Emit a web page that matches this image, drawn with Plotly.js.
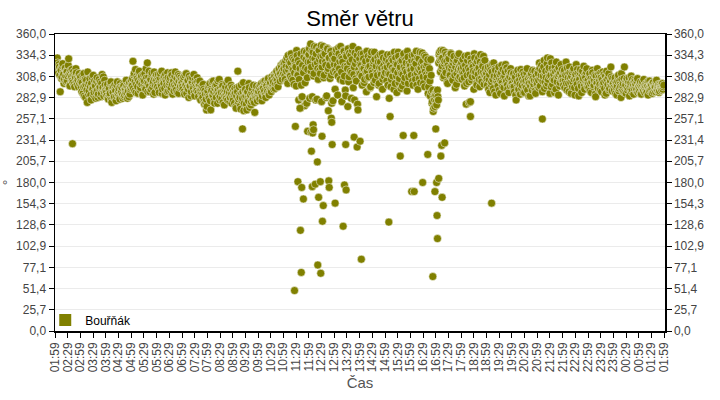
<!DOCTYPE html>
<html>
<head>
<meta charset="utf-8">
<script src="https://cdn.plot.ly/plotly-3.0.1.min.js"></script>
<style>
  html, body { margin: 0; padding: 0; background: #fff; }
  #smer { width: 720px; height: 400px; }
</style>
</head>
<body>
<div id="smer"></div>
<script>
/* wind direction, readings at :59, :01, :03 ... of each hour (first one 01:59) */
var dir02 = [322, 328, 318, 325, 313, 320, 290, 316, 308, 324, 311, 305, 319, 302, 314, 309, 330, 298, 312, 306, 317, 301, 310, 296, 307, 313, 299, 304, 311, 300];
var dir03 = [308, 295, 301, 288, 312, 297, 283, 304, 277, 299, 291, 306, 286, 300, 294, 310, 289, 298, 282, 303, 292, 287, 305, 296, 284, 300, 293, 308, 290, 298];
var dir04 = [292, 285, 299, 281, 294, 288, 302, 277, 290, 296, 284, 293, 279, 298, 287, 291, 283, 300, 289, 295, 282, 297, 286, 292, 304, 288, 296, 284, 301, 293];
var dir05 = [303, 297, 327, 310, 291, 317, 299, 306, 288, 313, 301, 295, 309, 286, 304, 298, 312, 293, 307, 325, 300, 315, 290, 305, 311, 296, 302, 314, 289, 308];
var dir06 = [304, 296, 311, 289, 307, 299, 315, 293, 302, 309, 286, 305, 298, 313, 291, 301, 307, 295, 310, 287, 303, 298, 314, 292, 306, 300, 288, 309, 297, 304];
var dir07 = [301, 293, 308, 287, 299, 312, 295, 304, 283, 297, 306, 290, 302, 296, 311, 285, 300, 293, 307, 289, 298, 303, 280, 294, 286, 299, 278, 291, 277, 268];
var dir08 = [288, 296, 282, 300, 268, 291, 285, 303, 279, 294, 287, 299, 276, 292, 305, 284, 290, 281, 297, 288, 274, 293, 286, 301, 280, 295, 289, 283, 298, 276];
var dir09 = [283, 291, 276, 288, 270, 295, 315, 281, 286, 273, 298, 279, 290, 267, 284, 293, 275, 289, 282, 300, 271, 286, 278, 294, 280, 288, 265, 283, 297, 279];
var dir10 = [287, 296, 281, 292, 300, 285, 294, 289, 303, 283, 297, 290, 306, 286, 299, 293, 308, 296, 302, 311, 294, 305, 315, 299, 310, 318, 303, 322, 308, 316];
var dir11 = [312, 325, 305, 320, 331, 300, 316, 327, 309, 336, 318, 304, 329, 313, 322, 297, 334, 310, 280, 324, 270, 298, 284, 315, 332, 273, 319, 338, 307, 326];
var dir12 = [335, 282, 348, 320, 284, 338, 312, 330, 280, 344, 325, 305, 340, 316, 333, 278, 327, 345, 310, 336, 322, 285, 342, 318, 331, 306, 339, 276, 328, 314];
var dir13 = [323, 293, 338, 312, 286, 343, 318, 305, 332, 278, 326, 340, 309, 292, 335, 321, 272, 302, 337, 315, 282, 329, 345, 311, 280, 324, 303, 334, 268, 317];
var dir14 = [330, 312, 322, 298, 336, 318, 305, 327, 290, 315, 333, 308, 321, 296, 338, 313, 324, 301, 329, 317, 284, 310, 326, 300, 335, 314, 319, 293, 331, 309];
var dir15 = [318, 327, 303, 335, 312, 282, 322, 296, 330, 309, 316, 338, 300, 324, 289, 313, 333, 306, 320, 294, 328, 311, 336, 302, 317, 325, 291, 332, 308, 319];
var dir16 = [322, 310, 334, 298, 318, 327, 305, 339, 313, 293, 330, 316, 301, 325, 337, 308, 320, 296, 332, 311, 324, 288, 315, 303, 329, 290, 278, 266, 284, 272];
var dir17 = [286, 274, 292, 280, 335, 328, 340, 318, 331, 307, 324, 338, 313, 327, 300, 333, 319, 310, 336, 322, 304, 329, 315, 295, 326, 312, 334, 306, 321, 316];
var dir18 = [318, 305, 329, 312, 297, 322, 275, 310, 334, 302, 316, 278, 325, 308, 320, 293, 331, 314, 300, 327, 311, 319, 296, 335, 306, 323, 313, 299, 328, 309];
var dir19 = [312, 298, 320, 305, 289, 316, 302, 324, 294, 309, 318, 286, 307, 300, 315, 292, 311, 303, 322, 296, 308, 285, 314, 301, 319, 293, 306, 310, 297, 313];
var dir20 = [305, 296, 312, 290, 308, 280, 300, 316, 293, 304, 287, 310, 298, 314, 302, 289, 307, 295, 318, 301, 285, 309, 297, 312, 292, 306, 299, 315, 288, 303];
var dir21 = [300, 312, 295, 318, 306, 322, 290, 309, 328, 302, 315, 297, 331, 305, 319, 288, 310, 325, 299, 314, 304, 320, 293, 308, 316, 286, 311, 301, 323, 307];
var dir22 = [309, 298, 316, 304, 326, 292, 311, 300, 320, 306, 288, 314, 302, 318, 295, 308, 323, 299, 312, 285, 305, 317, 297, 310, 303, 321, 293, 307, 314, 301];
var dir23 = [304, 295, 312, 300, 289, 316, 306, 298, 310, 284, 302, 318, 294, 307, 299, 313, 290, 305, 297, 311, 286, 303, 315, 296, 308, 292, 301, 320, 297, 306];
var dir00 = [300, 292, 307, 296, 286, 303, 310, 294, 299, 283, 305, 297, 290, 320, 301, 288, 306, 295, 302, 285, 298, 309, 293, 300, 287, 304, 296, 291, 302, 289];
var dir01 = [296, 290, 302, 287, 299, 293, 305, 289, 297, 291, 300, 286, 295, 303, 292, 298, 288, 301, 294, 296, 290, 304, 293, 297, 289, 299, 295, 292, 300, 296];

/* readings in between: :00, :02, :04 ... */
var dir02b = [326, 319, 331, 315, 323, 310, 317, 306, 321, 313, 300, 318, 309, 315, 303, 322, 311, 297, 316, 308, 304, 314, 299, 309, 318, 302, 307, 296, 312, 305];
var dir03b = [302, 290, 311, 296, 285, 305, 299, 292, 314, 287, 301, 296, 280, 308, 293, 286, 303, 297, 290, 307, 283, 299, 294, 302, 288, 311, 295, 285, 304, 292];
var dir04b = [289, 297, 283, 292, 286, 300, 280, 295, 289, 283, 298, 291, 285, 302, 288, 294, 281, 296, 290, 286, 299, 284, 293, 288, 297, 282, 291, 299, 287, 295];
var dir05b = [298, 306, 294, 312, 302, 289, 309, 296, 304, 315, 292, 307, 299, 286, 311, 303, 295, 318, 301, 290, 308, 297, 304, 293, 313, 300, 287, 306, 298, 310];
var dir06b = [299, 308, 293, 303, 312, 297, 288, 306, 300, 294, 311, 302, 290, 307, 298, 304, 292, 313, 299, 305, 291, 309, 296, 302, 289, 311, 303, 295, 307, 300];
var dir07b = [296, 305, 290, 310, 298, 288, 303, 293, 309, 297, 285, 301, 307, 294, 289, 304, 296, 291, 302, 284, 299, 292, 288, 297, 283, 293, 275, 287, 281, 272];
var dir08b = [291, 284, 297, 279, 293, 302, 286, 290, 276, 298, 283, 291, 303, 287, 280, 294, 289, 299, 277, 292, 285, 296, 282, 290, 304, 286, 278, 293, 287, 295];
var dir09b = [280, 287, 294, 272, 285, 290, 278, 296, 283, 269, 288, 282, 301, 276, 292, 285, 268, 290, 279, 295, 284, 274, 289, 281, 298, 277, 286, 292, 283, 290];
var dir10b = [290, 283, 298, 288, 279, 295, 302, 291, 286, 299, 293, 304, 288, 296, 301, 290, 305, 298, 293, 309, 300, 313, 304, 296, 317, 307, 312, 320, 305, 325];
var dir11b = [318, 309, 327, 315, 302, 334, 321, 310, 325, 306, 331, 317, 299, 327, 320, 340, 311, 328, 305, 318, 336, 283, 322, 313, 339, 301, 329, 276, 317, 334];
var dir12b = [342, 326, 315, 339, 331, 309, 345, 323, 336, 281, 318, 341, 329, 312, 346, 320, 334, 307, 338, 326, 283, 343, 315, 331, 322, 340, 310, 335, 279, 327];
var dir13b = [330, 316, 341, 322, 309, 336, 327, 345, 314, 330, 303, 339, 321, 285, 333, 318, 342, 308, 326, 334, 313, 340, 295, 320, 337, 306, 329, 275, 341, 312];
var dir14b = [323, 336, 309, 318, 330, 301, 325, 314, 339, 307, 320, 328, 295, 334, 316, 309, 327, 338, 304, 321, 313, 332, 298, 319, 326, 311, 336, 305, 322, 315];
var dir15b = [313, 330, 320, 298, 326, 311, 335, 305, 319, 328, 293, 316, 331, 309, 323, 338, 301, 318, 327, 312, 297, 334, 320, 307, 329, 314, 339, 300, 324, 316];
var dir16b = [316, 328, 303, 321, 335, 310, 324, 298, 331, 317, 306, 338, 319, 312, 327, 300, 334, 315, 322, 307, 329, 296, 318, 285, 310, 276, 292, 270, 280, 288];
var dir17b = [278, 290, 284, 325, 338, 314, 330, 321, 340, 309, 327, 316, 335, 302, 322, 330, 311, 337, 318, 306, 325, 333, 310, 320, 299, 328, 317, 336, 308, 323];
var dir18b = [325, 313, 320, 307, 333, 316, 300, 328, 319, 277, 311, 330, 304, 322, 315, 336, 309, 324, 298, 317, 331, 305, 326, 314, 302, 321, 333, 310, 318, 304];
var dir19b = [306, 317, 293, 311, 321, 299, 314, 305, 325, 290, 316, 303, 310, 297, 320, 306, 288, 313, 301, 317, 295, 309, 323, 303, 298, 315, 289, 308, 318, 300];
var dir20b = [300, 311, 296, 305, 286, 314, 302, 291, 309, 299, 317, 294, 305, 289, 311, 298, 303, 313, 292, 306, 300, 285, 310, 302, 316, 296, 304, 291, 309, 298];
var dir21b = [314, 304, 325, 297, 310, 316, 303, 320, 294, 312, 307, 324, 300, 315, 309, 330, 296, 318, 305, 311, 289, 314, 326, 302, 309, 319, 297, 313, 305, 317];
var dir22b = [303, 314, 295, 310, 300, 319, 307, 290, 313, 301, 309, 296, 316, 305, 286, 311, 303, 317, 294, 308, 313, 300, 289, 315, 306, 297, 311, 302, 318, 296];
var dir23b = [299, 310, 291, 306, 302, 313, 296, 304, 287, 309, 300, 295, 311, 303, 292, 307, 298, 314, 301, 294, 309, 288, 305, 299, 312, 294, 303, 308, 291, 300];
var dir00b = [295, 304, 288, 301, 297, 308, 291, 303, 296, 312, 293, 300, 306, 289, 298, 304, 292, 299, 307, 295, 301, 290, 305, 297, 294, 302, 299, 293, 306, 297];
var dir01b = [293, 299, 288, 296, 302, 291, 297, 294, 300, 289, 297, 303, 291, 296, 299, 293, 301, 290, 298, 295, 302, 292, 296, 299, 291, 297, 294, 300, 293, 298];

/* single gusty readings far off the main band */
var gustTimes = ['02:40', '09:22', '11:25', '11:27', '11:33', '11:38', '11:39', '11:41', '11:42', '11:46',
                 '11:56', '12:04', '12:05', '12:07', '12:08', '12:09', '12:10', '12:14', '12:19', '12:20',
                 '12:22', '12:26', '12:27', '12:30', '12:31', '12:33', '12:45', '12:46', '12:47', '12:52',
                 '12:53', '12:54', '13:01', '13:20', '13:23', '13:26', '13:27', '13:46', '13:53', '14:00',
                 '14:03', '15:08', '15:11', '15:35', '15:42', '16:02', '16:07', '16:08', '16:28', '16:40',
                 '16:52', '16:57', '16:59', '17:01', '17:02', '17:03', '17:06', '17:11', '17:13', '17:14',
                 '17:20', '18:21', '19:11', '21:11'];
var gustDirs  = [227, 245, 49, 248, 181, 270, 122, 71, 174, 160,
                 242, 241, 218, 175, 240, 250, 244, 178, 205, 80,
                 162, 181, 70, 236, 133, 152, 267, 182, 174, 258,
                 253, 226, 155, 127, 177, 226, 171, 235, 223, 230,
                 87, 132, 260, 212, 237, 169, 237, 169, 180, 214,
                 66, 169, 245, 180, 140, 112, 185, 212, 225, 162,
                 228, 260, 155, 257];

var seriesName = 'Bouřňák';
var yTicks = 14;          // 0 .. 360 in 14 steps

var hoursA = [dir02, dir03, dir04, dir05, dir06, dir07, dir08, dir09, dir10, dir11, dir12, dir13,
              dir14, dir15, dir16, dir17, dir18, dir19, dir20, dir21, dir22, dir23, dir00, dir01];
var hoursB = [dir02b, dir03b, dir04b, dir05b, dir06b, dir07b, dir08b, dir09b, dir10b, dir11b, dir12b, dir13b,
              dir14b, dir15b, dir16b, dir17b, dir18b, dir19b, dir20b, dir21b, dir22b, dir23b, dir00b, dir01b];

var start = Date.UTC(2024, 0, 1, 1, 59);
var xs = [], ys = [];
for (var h = 0; h < 24; h++) {
  for (var i = 0; i < 30; i++) {
    xs.push(start + h * 3600000 + i * 120000);
    ys.push(hoursA[h][i]);
    xs.push(start + h * 3600000 + i * 120000 + 60000);
    ys.push(hoursB[h][i]);
  }
}
gustTimes.forEach(function (t, i) {
  var hh = +t.slice(0, 2), mm = +t.slice(3);
  var day = (hh * 60 + mm < 119) ? 2 : 1;
  xs.push(Date.UTC(2024, 0, day, hh, mm));
  ys.push(gustDirs[i]);
});

var olive = '#808000';
var sans = 'Liberation Sans, Arial, sans-serif';

var data = [
  {
    x: xs, y: ys,
    type: 'scatter', mode: 'markers',
    name: seriesName, legendgroup: 'b', showlegend: false,
    marker: { color: olive, size: 8, line: { color: '#ffffff', width: 0.5 } },
    hoverinfo: 'skip'
  },
  {   // legend swatch only (square)
    x: [null], y: [null],
    type: 'scatter', mode: 'markers',
    name: seriesName, legendgroup: 'b',
    marker: { color: olive, size: 12, symbol: 'square' }
  },
  {   // carries the right-hand axis
    x: [null], y: [null], yaxis: 'y2',
    type: 'scatter', mode: 'markers', showlegend: false
  }
];

var axFont = { family: sans, size: 12, color: '#444' };

var layout = {
  width: 720, height: 400,
  margin: { l: 55, r: 55, t: 34, b: 69 },
  paper_bgcolor: '#fff', plot_bgcolor: '#fff',
  separators: ', ',
  font: { family: sans },
  title: {
    text: 'Směr větru',
    font: { family: sans, size: 22, color: '#000' },
    x: 0.5, xanchor: 'center', y: 0.955, yanchor: 'middle'
  },
  showlegend: true,
  legend: {
    x: -0.016, y: -0.012, xanchor: 'left', yanchor: 'bottom',
    bgcolor: 'rgba(0,0,0,0)',
    font: { family: sans, size: 12, color: '#000' },
    itemsizing: 'trace'
  },
  xaxis: {
    type: 'date',
    range: ['2024-01-01 01:58:40', '2024-01-02 02:01:00'],
    tick0: '2024-01-01 01:59', dtick: 1800000,
    tickformat: '%H:%M', tickangle: -90,
    tickfont: axFont,
    ticks: 'outside', ticklen: 5, tickcolor: '#000',
    showgrid: false, zeroline: false,
    showline: true, linecolor: '#000', linewidth: 1.5, mirror: true,
    title: { text: 'Čas', font: { family: sans, size: 15, color: '#555' }, standoff: 6 }
  },
  yaxis: {
    range: [0, 360], tick0: 0, dtick: 360 / yTicks, tickformat: '.1f',
    tickfont: axFont,
    ticks: 'outside', ticklen: 5, tickcolor: '#000',
    showgrid: true, gridcolor: '#ebebeb', zeroline: false,
    showline: true, linecolor: '#000', linewidth: 1.5,
    title: { text: '°', font: { family: sans, size: 14, color: '#555' }, standoff: 8 }
  },
  yaxis2: {
    overlaying: 'y', side: 'right',
    range: [0, 360], tick0: 0, dtick: 360 / yTicks, tickformat: '.1f',
    tickfont: axFont,
    ticks: 'outside', ticklen: 5, tickcolor: '#000',
    showgrid: false, zeroline: false,
    showline: true, linecolor: '#000', linewidth: 1.5
  }
};

Plotly.newPlot('smer', data, layout, { staticPlot: true });
</script>
</body>
</html>
